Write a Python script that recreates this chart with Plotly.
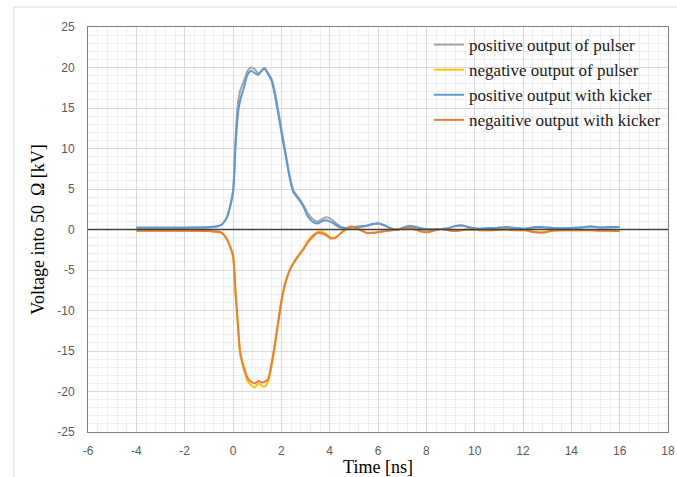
import plotly.graph_objects as go

# Time axis shared by all four waveforms [ns]
time_ns = [-4, -3, -2, -1, -0.5, -0.25, 0, 0.1, 0.2, 0.3, 0.45, 0.6, 0.75, 0.9,
           1.05, 1.2, 1.3, 1.45, 1.6, 1.75, 1.9, 2.05, 2.2, 2.35, 2.5, 2.7, 2.9,
           3.1, 3.3, 3.5, 3.7, 3.85, 4.05, 4.25, 4.45, 4.65, 4.85, 5.05, 5.3,
           5.55, 5.8, 6.05, 6.3, 6.55, 6.8, 7.05, 7.3, 7.55, 7.8, 8.05, 8.3,
           8.6, 8.9, 9.2, 9.5, 9.8, 10.1, 10.5, 10.9, 11.3, 11.7, 12.1, 12.5,
           12.8, 13.2, 13.6, 14.0, 14.4, 14.8, 15.2, 15.6, 16.0]

# Voltages [kV]
pos_pulser = [0.2, 0.2, 0.2, 0.25, 0.5, 1.5, 4.8, 11.0, 15.5, 17.2, 18.3, 19.6,
              20.0, 19.8, 19.3, 19.6, 19.9, 19.3, 18.6, 16.8, 14.2, 11.6, 9.0,
              6.6, 4.8, 4.0, 3.1, 2.0, 1.3, 1.0, 1.3, 1.5, 1.3, 0.8, 0.35, 0.2,
              0.2, 0.25, 0.3, 0.45, 0.65, 0.7, 0.5, 0.15, 0.0, 0.25, 0.45, 0.35,
              0.15, 0.05, 0.0, 0.05, 0.15, 0.4, 0.45, 0.25, 0.1, 0.15, 0.2, 0.25,
              0.2, 0.1, 0.25, 0.25, 0.2, 0.15, 0.2, 0.25, 0.35, 0.25, 0.25, 0.3]

neg_pulser = [-0.15, -0.15, -0.15, -0.2, -0.35, -1.2, -3.3, -7.8, -11.8, -15.5,
              -17.3, -18.7, -19.2, -19.5, -19.0, -19.3, -19.4, -18.8, -16.8,
              -14.1, -11.0, -8.2, -6.3, -5.0, -4.1, -3.2, -2.4, -1.4, -0.7,
              -0.3, -0.3, -0.55, -1.0, -0.95, -0.5, 0.0, 0.35, 0.25, -0.1,
              -0.4, -0.4, -0.3, -0.2, -0.1, 0.0, 0.1, 0.25, 0.05, -0.2, -0.3,
              -0.1, 0.05, -0.05, -0.15, -0.05, 0.0, -0.05, -0.1, -0.05, 0.0,
              -0.05, -0.1, -0.3, -0.35, -0.15, -0.1, -0.1, -0.1, -0.05, -0.1,
              -0.15, -0.2]

pos_kicker = [0.25, 0.25, 0.25, 0.3, 0.55, 1.5, 4.5, 10.0, 14.2, 16.0, 17.5,
              19.1, 19.6, 19.3, 19.1, 19.7, 19.9, 19.2, 18.3, 16.3, 13.8,
              11.2, 8.8, 6.3, 4.6, 3.8, 2.9, 1.6, 0.95, 0.75, 1.05, 1.15, 0.95,
              0.55, 0.25, 0.2, 0.25, 0.35, 0.4, 0.5, 0.7, 0.75, 0.45, 0.1,
              -0.05, 0.2, 0.4, 0.3, 0.1, 0.0, 0.0, 0.05, 0.15, 0.45, 0.5, 0.25,
              0.1, 0.15, 0.2, 0.3, 0.2, 0.1, 0.3, 0.3, 0.2, 0.15, 0.2, 0.25,
              0.4, 0.25, 0.3, 0.3]

neg_kicker = [-0.15, -0.15, -0.15, -0.2, -0.35, -1.2, -3.2, -7.5, -11.5, -15.2,
              -17.0, -18.3, -18.8, -19.0, -18.7, -18.9, -18.8, -18.5, -16.5,
              -13.8, -10.8, -8.0, -6.2, -5.0, -4.2, -3.3, -2.5, -1.6, -0.9,
              -0.4, -0.5, -0.7, -1.1, -1.0, -0.5, 0.0, 0.35, 0.25, -0.1, -0.45,
              -0.4, -0.3, -0.2, -0.1, 0.0, 0.1, 0.2, 0.0, -0.25, -0.35, -0.15,
              0.05, -0.1, -0.2, -0.05, 0.0, -0.05, -0.1, -0.05, 0.0, -0.1, -0.1,
              -0.35, -0.4, -0.15, -0.1, -0.1, -0.1, -0.1, -0.15, -0.15, -0.2]

series = [
    ("positive output of pulser", pos_pulser, "#A5A5A5"),
    ("negative output of pulser", neg_pulser, "#FFC000"),
    ("positive output with kicker", pos_kicker, "#5B9BD5"),
    ("negaitive output with kicker", neg_kicker, "#ED7D31"),
]

x_ticks = list(range(-6, 19, 2))
y_ticks = list(range(-25, 26, 5))

fig = go.Figure()
for i, (name, vals, color) in enumerate(series):
    fig.add_trace(go.Scatter(
        x=time_ns, y=vals, name=name, mode="lines",
        line=dict(color=color, width=2, shape="spline", smoothing=0.6),
        legendgroup=f"g{i}",
    ))

serif = "Liberation Serif, Times New Roman, serif"
tick_font = dict(family="Liberation Sans, Arial, sans-serif", size=12, color="#595959")

axis_common = dict(
    showline=True, linecolor="#7F7F7F", linewidth=1, mirror=True,
    showgrid=True, gridcolor="#D9D9D9", gridwidth=1,
    zeroline=False, ticks="", tickfont=tick_font, automargin=False,
    minor=dict(showgrid=True, gridcolor="#EFEFEF", gridwidth=1),
)

fig.update_xaxes(
    range=[-6, 18], tickvals=x_ticks, ticktext=[str(v) for v in x_ticks],
    minor_dtick=0.4, ticklabelstandoff=8,
    title=dict(text="Time [ns]", font=dict(family=serif, size=18, color="#000000"),
               standoff=3),
    **axis_common,
)
fig.update_yaxes(
    range=[-25, 25], tickvals=y_ticks, ticktext=[str(v) for v in y_ticks],
    minor_dtick=1, ticklabelstandoff=10,
    title=dict(text="Voltage into 50  Ω [kV]",
               font=dict(family=serif, size=18, color="#000000"), standoff=7),
    **axis_common,
)

# horizontal axis crossing at 0 kV
fig.add_shape(type="line", xref="paper", yref="y", x0=0, x1=1, y0=0, y1=0,
              line=dict(color="#404040", width=1.3), layer="above")

# chart area border
fig.add_shape(type="rect", xref="paper", yref="paper",
              x0=-0.1276, x1=1.2, y0=-0.3, y1=1.0493,
              line=dict(color="#D9D9D9", width=1), layer="below")

fig.update_layout(
    width=677, height=477,
    margin=dict(l=88, r=9, t=27, b=45),
    paper_bgcolor="white", plot_bgcolor="white",
    showlegend=True,
    legend=dict(
        x=0.588, y=1.0, xanchor="left", yanchor="top",
        bgcolor="rgba(0,0,0,0)", borderwidth=0,
        font=dict(family=serif, size=17, color="#1A1A1A"),
        tracegroupgap=0, itemwidth=30,
    ),
)

fig.write_html("out.html")
